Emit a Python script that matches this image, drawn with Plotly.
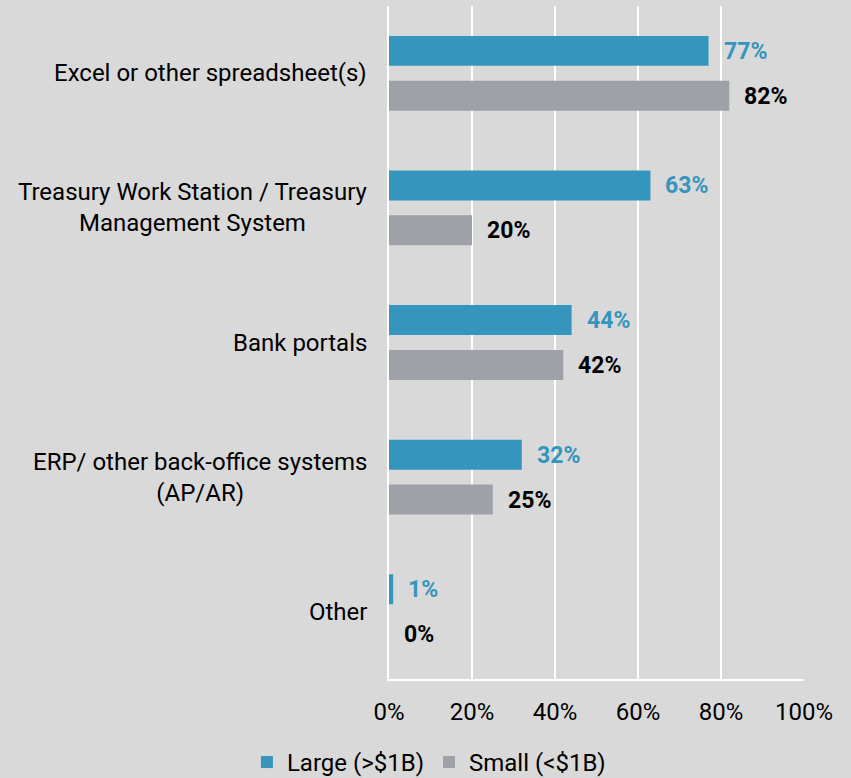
import plotly.graph_objects as go

categories = [
    "Excel or other spreadsheet(s)",
    "Treasury Work Station / Treasury<br>Management System",
    "Bank portals",
    "ERP/ other back-office systems<br>(AP/AR)",
    "Other",
]
large_values = [77, 63, 44, 32, 1]
small_values = [82, 20, 42, 25, 0]
x_ticks = [0, 20, 40, 60, 80, 100]
x_tick_labels = ["0%", "20%", "40%", "60%", "80%", "100%"]

BLUE = "#3595BD"
GREY = "#9EA1A8"
BG = "#D9D9D9"
FONT = "Roboto"
FS = 24

fig = go.Figure()
fig.add_trace(go.Bar(
    y=categories, x=large_values, orientation="h",
    name="Large (>$1B)", marker=dict(color=BLUE, line=dict(width=0)),
    hoverinfo="skip",
))
fig.add_trace(go.Bar(
    y=categories, x=small_values, orientation="h",
    name="Small (<$1B)", marker=dict(color=GREY, line=dict(width=0)),
    hoverinfo="skip",
))

# value labels just past the end of each bar
for cat, val in zip(categories, large_values):
    fig.add_annotation(
        x=val, y=cat, yshift=22, xshift=13, xanchor="left", yanchor="middle",
        text=f"<b>{val}%</b>", showarrow=False,
        font=dict(family=FONT, size=23, color=BLUE),
    )
for cat, val in zip(categories, small_values):
    fig.add_annotation(
        x=val, y=cat, yshift=-23, xshift=13, xanchor="left", yanchor="middle",
        text=f"<b>{val}%</b>", showarrow=False,
        font=dict(family=FONT, size=23, color="#000000"),
    )

# category labels, centred line by line
for cat in categories:
    fig.add_annotation(
        x=0, xref="paper", y=cat, xanchor="right", yanchor="middle",
        xshift=-20, align="center", text=cat, showarrow=False,
        font=dict(family=FONT, size=FS, color="#000000"),
    )

fig.update_layout(
    width=851, height=778,
    paper_bgcolor=BG, plot_bgcolor=BG,
    margin=dict(l=389, r=47, t=6, b=99),
    font=dict(family=FONT, size=FS, color="#000000"),
    barmode="group", bargap=0.333, bargroupgap=0.333,
    showlegend=True,
    legend=dict(
        orientation="h", xref="container", x=0.504, xanchor="center",
        yref="container", y=0.02, yanchor="middle",
        font=dict(family=FONT, size=FS, color="#000000"),
        bgcolor="rgba(0,0,0,0)",
    ),
    xaxis=dict(
        range=[0, 100], tickvals=x_ticks, ticktext=x_tick_labels,
        showgrid=True, gridcolor="#FFFFFF", gridwidth=2,
        showline=True, linecolor="#FFFFFF", linewidth=2,
        zeroline=False, ticks="outside", ticklen=10, tickcolor=BG,
        fixedrange=True,
    ),
    yaxis=dict(
        categoryorder="array", categoryarray=categories,
        autorange="reversed", showticklabels=False,
        showgrid=False, zeroline=False,
        showline=True, linecolor="#FFFFFF", linewidth=2,
        fixedrange=True,
    ),
)

fig.write_html("out.html")
